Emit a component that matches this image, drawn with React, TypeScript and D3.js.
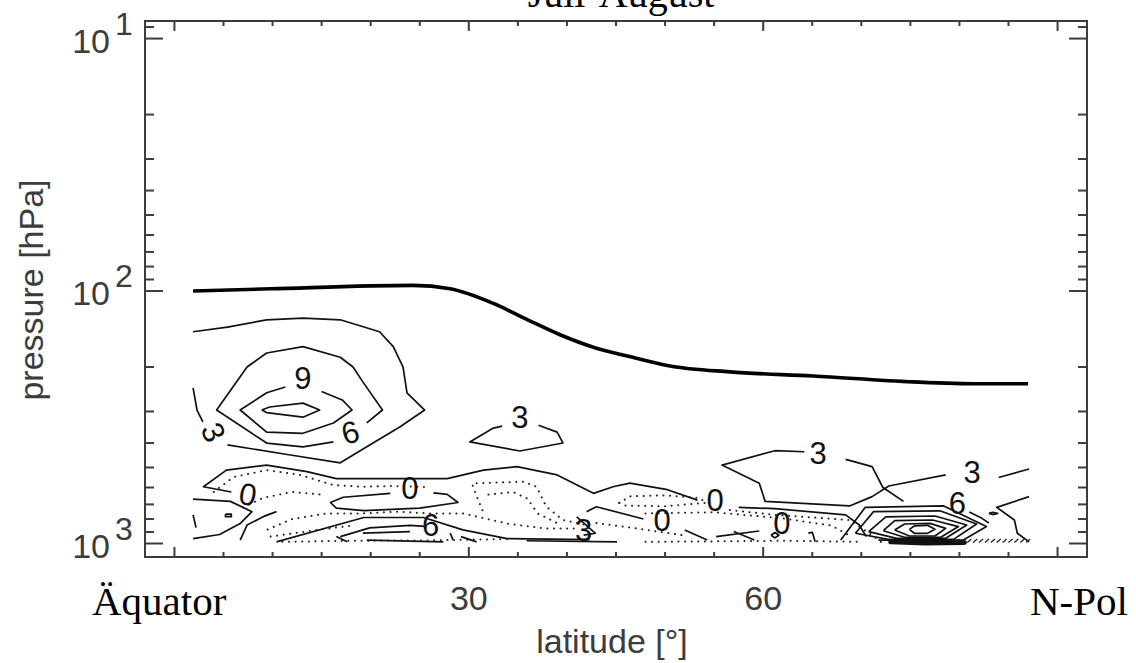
import React from 'react';
import * as d3 from 'd3';

type Pt = [number, number]; // [latitude °, pressure hPa]

// ---- axis data ----
const latTicks = [0, 5, 10, 15, 20, 25, 30, 35, 40, 45, 50, 55, 60, 65, 70, 75, 80, 85, 90];
const latMajor = [0, 30, 60, 90];
const latLabels = [30, 60];
const pDecades = [10, 100, 1000];
const pMinor = [9, 20, 30, 40, 50, 60, 70, 80, 90, 200, 300, 400, 500, 600, 700, 800, 900];

// ---- thick line (tropopause) ----
const tropopause: Pt[] = [
  [1.9, 100], [9.8, 98], [24.3, 95], [28.1, 98], [32.5, 112], [36.0, 130], [39.3, 149],
  [42.7, 167], [46.7, 183], [50.5, 198], [56.6, 209], [65.1, 217], [75.3, 229], [82.1, 233], [87.0, 233],
];

// ---- upper-left maximum ----
const c3OuterA: Pt[] = [
  [1.9, 145], [5.4, 139], [9.4, 130], [13.1, 128], [16.9, 130], [20.9, 145], [22.3, 166], [23.3, 200],
  [23.7, 253], [25.5, 296], [23.0, 345], [19.6, 414], [16.9, 479], [11.5, 444], [5.4, 407],
];
const c3OuterB: Pt[] = [[1.9, 242], [2.3, 296], [2.9, 330]];
const c6A: Pt[] = [
  [19.6, 333], [21.2, 296], [19.2, 229], [18.2, 200], [16.9, 183], [13.1, 166], [9.4, 176], [7.4, 200],
  [4.3, 296], [9.4, 400], [13.1, 414], [16.2, 396],
];
const c9A: Pt[] = [[11.3, 240], [9.4, 253], [6.7, 296], [9.4, 362], [13.1, 366], [16.2, 333], [18.1, 296], [17.1, 270], [15.0, 250]];
const c12: Pt[] = [[8.9, 296], [9.7, 288], [13.1, 278], [14.8, 296], [13.1, 316], [9.4, 303], [8.9, 296]];
const c3SmallA: Pt[] = [[33.4, 343], [32.5, 349], [30.1, 396], [35.2, 430], [39.6, 400], [39.0, 362], [37.1, 340]];

// ---- lower-left band ----
const zeroUpper: Pt[] = [
  [5.8, 625], [2.95, 596], [5.3, 512], [9.4, 489], [13.5, 519], [16.5, 553], [27.8, 553], [31.5, 512],
  [34.9, 496], [39.0, 535], [42.7, 633], [44.7, 596], [46.4, 577], [50.1, 610], [53.3, 673],
];
const zeroUpperB: Pt[] = [[57.5, 719], [61.2, 728], [68.4, 770], [69.8, 845], [70.5, 939]];
const zeroLens: Pt[] = [
  [22.0, 633], [17.2, 656], [15.9, 688], [16.5, 724], [19.3, 741], [25.0, 724], [28.9, 688], [27.8, 639], [26.4, 630],
];
const lowLeftA: Pt[] = [[1.9, 667], [5.7, 681], [7.9, 748], [6.7, 834], [4.6, 921], [1.9, 957]];
const lowLeftB: Pt[] = [[6.7, 969], [7.4, 845], [9.1, 781], [10.4, 748]];
const lowLeftTick: Pt[] = [[1.9, 770], [2.2, 865]];
const lowLeftDot: Pt[] = [[5.2, 765], [5.8, 765], [5.8, 782], [5.2, 782], [5.2, 765]];
const bottomEdge: Pt[] = [[10.4, 985], [19.3, 789], [25.4, 789], [29.4, 883], [33.9, 957], [42.3, 966]];
const dense1: Pt[] = [[16.9, 939], [19.9, 867], [24.0, 848], [25.5, 856]];
const dense2: Pt[] = [[19.2, 910], [24.0, 897]];
const dense3: Pt[] = [[19.6, 969], [27.4, 985]];
const dense4: Pt[] = [[16.5, 939], [17.6, 985]];
const dense5: Pt[] = [[28.1, 910], [28.4, 969]];
const dense6: Pt[] = [[29.2, 939], [30.8, 985]];
const dense7: Pt[] = [[35.9, 975], [45.1, 985]];
const zeroMidA: Pt[] = [[42.0, 748], [43.0, 715], [47.8, 800]];
const zeroMidB: Pt[] = [[52.0, 884], [54.3, 969]];
const zeroRightA: Pt[] = [[55.2, 939], [59.6, 892]];
const zeroRightB: Pt[] = [[57.0, 897], [59.1, 969]];
const small3: Pt[] = [[41.0, 784], [42.9, 911], [41.7, 927]];
const tinyDiamond: Pt[] = [[60.8, 927], [61.2, 905], [61.6, 927], [61.2, 950], [60.8, 927]];
const tinyOne: Pt[] = [[64.6, 910], [65.0, 903], [65.3, 985]];

// ---- upper-right 3 contour ----
const r3a: Pt[] = [[74.3, 681], [72.2, 600], [71.1, 496], [68.4, 464]];
const r3b: Pt[] = [
  [64.2, 433], [61.2, 429], [55.8, 489], [59.6, 577], [60.2, 681], [68.8, 710], [71.1, 652], [72.8, 592], [78.6, 535],
];
const r3c: Pt[] = [[84.0, 548], [87.1, 507]];
const rightLt: Pt[] = [[87.1, 652], [83.8, 719], [85.6, 807], [85.9, 911], [87.1, 985]];
const rightWing: Pt[] = [[81.0, 750], [82.3, 795], [83.0, 830]];
const rightLoop: Pt[] = [[83.0, 760], [83.4, 752], [83.9, 760], [83.4, 768], [83.0, 760]];

// ---- polar surface maximum ----
const ring1: Pt[] = [[67.9, 969], [70.4, 719], [78.4, 710], [82.75, 857], [80.4, 969], [71.75, 969]];
const ring2: Pt[] = [[69.4, 911], [71.25, 748], [78.0, 742], [81.75, 837], [79.4, 963], [72.75, 963], [69.4, 911]];
const ring3: Pt[] = [[70.75, 897], [72.5, 784], [77.5, 778], [80.75, 845], [78.6, 954], [73.6, 954], [70.75, 897]];
const ring4: Pt[] = [[72.25, 890], [73.4, 812], [77.25, 807], [79.9, 857], [78.1, 945], [74.4, 945], [72.25, 890]];
const ring5: Pt[] = [[73.4, 884], [74.4, 837], [77.0, 832], [78.6, 871], [77.5, 934], [74.9, 934], [73.4, 884]];
const ring6: Pt[] = [[74.9, 879], [75.4, 852], [76.75, 847], [77.5, 879], [76.75, 911], [75.4, 911], [74.9, 879]];
const surfaceBlob: Pt[] = [[73.0, 985], [76.5, 995], [80.5, 990]];
const hatchLats = [79.6, 80.2, 80.8, 81.4, 82.0, 82.6, 83.2, 83.8, 84.4, 85.0, 85.6, 86.2, 86.8];

// ---- dotted (negative) contours ----
const dotted1: Pt[] = [[4.0, 625], [6.0, 546], [9.4, 512], [12.8, 535], [16.2, 587], [19.2, 596], [22.0, 592], [26.0, 598]];
const dotted2: Pt[] = [[7.0, 720], [9.0, 660], [12.0, 625], [15.0, 640]];
const dotted3: Pt[] = [
  [9.5, 880], [12.0, 800], [15.5, 760], [19.0, 760], [22.7, 748], [26.0, 760], [29.4, 760], [33.9, 834], [37.9, 873], [41.0, 873],
];
const dotted4: Pt[] = [[9.8, 939], [14.5, 884], [18.0, 850]];
const dotted5: Pt[] = [[30.8, 577], [35.6, 569], [36.9, 596], [37.9, 715], [39.6, 807], [42.0, 845]];
const dotted6: Pt[] = [[30.4, 590], [30.8, 650], [31.4, 740]];
const dotted7: Pt[] = [[45.3, 690], [46.5, 650], [50.0, 645], [53.5, 660], [54.2, 690], [50.0, 712], [46.0, 708], [45.3, 690]];
const dotted8: Pt[] = [[56.6, 737], [61.2, 770], [68.8, 807], [70.8, 911], [72.0, 985]];
const dotted9: Pt[] = [[48.0, 985], [56.0, 980], [62.0, 975], [70.0, 985]];
const dotted10: Pt[] = [[43.0, 830], [47.0, 870], [52.0, 930]];
const dotted11: Pt[] = [[11.0, 985], [18.0, 975], [26.0, 972], [34.0, 960]];
const dotted12: Pt[] = [[32.0, 640], [34.5, 625], [36.0, 665], [37.0, 760], [39.0, 830]];
const dotted13: Pt[] = [[48.0, 760], [55.0, 752], [62.0, 795], [67.0, 850], [69.0, 940]];

const solidLines: Pt[][] = [
  c3OuterA, c3OuterB, c6A, c9A, c12, c3SmallA, zeroUpper, zeroUpperB, zeroLens, lowLeftA, lowLeftB, lowLeftTick,
  lowLeftDot, bottomEdge, dense1, dense2, dense3, dense4, dense5, dense6, dense7, zeroMidA, zeroMidB, zeroRightA,
  zeroRightB, small3, tinyDiamond, tinyOne, r3a, r3b, r3c, rightLt, rightWing, rightLoop,
  ring1, ring2, ring3, ring4, ring5, ring6,
];
const dottedLines: Pt[][] = [
  dotted1, dotted2, dotted3, dotted4, dotted5, dotted6, dotted7, dotted8, dotted9, dotted10, dotted11, dotted12, dotted13,
];

const contourLabels = [
  { text: '9', lat: 13.1, p: 221, rot: 0 },
  { text: '6', lat: 17.9, p: 362, rot: -15 },
  { text: '3', lat: 4.0, p: 362, rot: 65 },
  { text: '3', lat: 35.2, p: 316, rot: 0 },
  { text: '0', lat: 7.5, p: 637, rot: 10 },
  { text: '0', lat: 24.0, p: 604, rot: 0 },
  { text: '6', lat: 26.1, p: 845, rot: 0 },
  { text: '3', lat: 41.7, p: 884, rot: 0 },
  { text: '0', lat: 55.1, p: 673, rot: 0 },
  { text: '0', lat: 49.7, p: 808, rot: 0 },
  { text: '0', lat: 61.9, p: 830, rot: 0 },
  { text: '3', lat: 65.6, p: 438, rot: 0 },
  { text: '3', lat: 81.3, p: 520, rot: 0 },
  { text: '6', lat: 79.8, p: 690, rot: 0 },
];

const sans = '"Liberation Sans", Arial, sans-serif';
const serif = '"Liberation Serif", "Times New Roman", serif';

export default function App() {
  const left = 145, right = 1087, top = 21, bottom = 557;

  const x = d3.scaleLinear().domain([-3, 93]).range([left, right]);
  const y = d3.scaleLog().domain([8.52, 1131]).range([top, bottom]);

  const line = d3.line<Pt>().x(d => x(d[0])).y(d => y(d[1]));
  const smooth = d3.line<Pt>().x(d => x(d[0])).y(d => y(d[1])).curve(d3.curveMonotoneX);

  const axisColor = '#3c3c3c';

  return (
    <svg width={1136} height={663} style={{ display: 'block', position: 'absolute', left: 0, top: 0, background: '#fff' }}>
      {/* title, cut off at top as in the source */}
      <text x={621} y={7} textAnchor="middle" fontFamily={serif} fontSize={40} fill="#000">Juli-August</text>

      {/* contours */}
      <g fill="none" stroke="#111" strokeWidth={1.7} strokeLinejoin="round">
        {solidLines.map((pts, i) => <path key={i} d={line(pts) || ''} />)}
      </g>
      <g fill="none" stroke="#222" strokeWidth={2} strokeLinecap="round" strokeDasharray="0.1 6.5">
        {dottedLines.map((pts, i) => <path key={i} d={line(pts) || ''} />)}
      </g>
      <path d={line(surfaceBlob) || ''} fill="none" stroke="#111" strokeWidth={5} strokeLinecap="round" />
      <g stroke="#222" strokeWidth={1.3}>
        {hatchLats.map(l => (
          <line key={l} x1={x(l)} y1={y(990)} x2={x(l) + 4} y2={y(960)} />
        ))}
      </g>
      <path d={smooth(tropopause) || ''} fill="none" stroke="#000" strokeWidth={3.6} />

      {/* contour labels */}
      <g fontFamily={sans} fontSize={31} fill="#111" textAnchor="middle">
        {contourLabels.map((c, i) => (
          <text key={i} x={x(c.lat)} y={y(c.p)} dy="0.36em"
            transform={`rotate(${c.rot},${x(c.lat)},${y(c.p)})`}>{c.text}</text>
        ))}
      </g>

      {/* frame */}
      <rect x={left} y={top} width={right - left} height={bottom - top} fill="none" stroke={axisColor} strokeWidth={2} />

      {/* ticks on all four sides */}
      <g stroke={axisColor} strokeWidth={2}>
        {latTicks.map(t => {
          const len = latMajor.includes(t) ? 10 : 5;
          return (
            <g key={t}>
              <line x1={x(t)} x2={x(t)} y1={bottom} y2={bottom - len} />
              <line x1={x(t)} x2={x(t)} y1={top} y2={top + len} />
            </g>
          );
        })}
        {pDecades.map(p => (
          <g key={p}>
            <line x1={left} x2={left + 18} y1={y(p)} y2={y(p)} />
            <line x1={right} x2={right - 18} y1={y(p)} y2={y(p)} />
          </g>
        ))}
        {pMinor.map(p => (
          <g key={p}>
            <line x1={left} x2={left + 9} y1={y(p)} y2={y(p)} />
            <line x1={right} x2={right - 9} y1={y(p)} y2={y(p)} />
          </g>
        ))}
      </g>

      {/* tick labels */}
      <g fontFamily={sans} fontSize={34} fill={axisColor}>
        {latLabels.map(t => (
          <text key={t} x={x(t)} y={610} textAnchor="middle">{t}</text>
        ))}
        {pDecades.map((p, i) => (
          <g key={p}>
            <text x={110} y={y(p) + 14} textAnchor="end">10</text>
            <text x={115} y={y(p) - 4} fontSize={32}>{i + 1}</text>
          </g>
        ))}
        <text x={612} y={653} textAnchor="middle">latitude [°]</text>
        <text transform="translate(43,290) rotate(-90)" textAnchor="middle">pressure [hPa]</text>
      </g>

      <text x={92} y={615} fontFamily={serif} fontSize={41} fill="#000">Äquator</text>
      <text x={1030} y={615} fontFamily={serif} fontSize={41} fill="#000">N-Pol</text>
    </svg>
  );
}
